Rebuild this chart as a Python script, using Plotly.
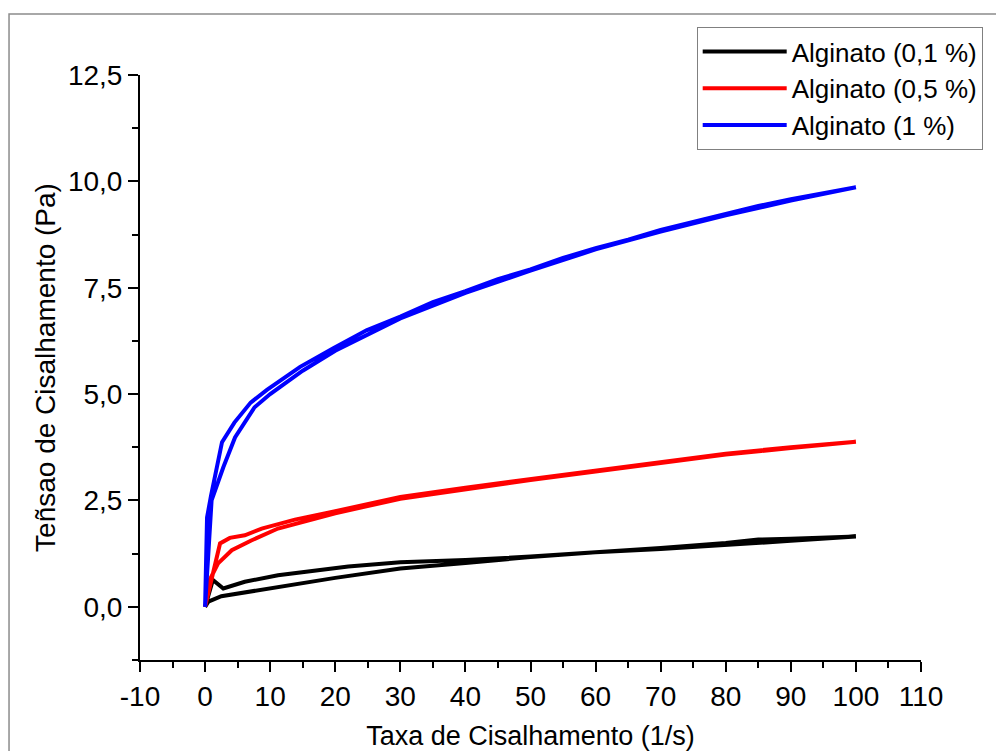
import plotly.graph_objects as go

# ---- data ----
series_names = ["Alginato (0,1 %)", "Alginato (0,5 %)", "Alginato (1 %)"]
series_colors = ["#000000", "#FF0000", "#0000FF"]

# Alginato 0,1 % : up ramp then down ramp
x_01 = [0, 1.2, 2.8, 6.1, 11.2, 16.4, 22, 30, 40, 50, 60, 70, 80, 85, 90, 100,
        90, 80, 70, 60, 50, 40, 30, 20, 16.4, 11.2, 6.1, 2.5, 0.5, 0]
y_01 = [0, 0.63, 0.43, 0.59, 0.74, 0.84, 0.95, 1.05, 1.10, 1.18, 1.27, 1.38, 1.50, 1.58, 1.60, 1.65,
        1.55, 1.45, 1.36, 1.28, 1.17, 1.03, 0.90, 0.68, 0.59, 0.47, 0.35, 0.25, 0.12, 0]

# Alginato 0,5 %
x_05 = [0, 2.3, 3.8, 6.1, 8.7, 13.8, 20, 30, 40, 50, 60, 70, 80, 90, 100,
        90, 80, 70, 60, 50, 40, 30, 20, 11.2, 7.1, 4.1, 2.0, 0.7, 0]
y_05 = [0, 1.49, 1.62, 1.68, 1.84, 2.05, 2.25, 2.58, 2.80, 3.00, 3.20, 3.42, 3.60, 3.75, 3.88,
        3.73, 3.58, 3.39, 3.18, 2.98, 2.77, 2.54, 2.20, 1.84, 1.56, 1.33, 1.02, 0.63, 0]

# Alginato 1 %
x_1 = [0, 0.3, 0.9, 2.6, 4.5, 7, 9.5, 14.6, 19.7, 24.8, 30, 35, 40, 45, 50, 55, 60, 65, 70, 75,
       80, 85, 90, 95, 100,
       90, 80, 70, 60, 50, 40, 30, 20, 15, 10, 7.6, 4.6, 2.8, 1.0, 0]
y_1 = [0, 2.1, 2.6, 3.87, 4.33, 4.80, 5.10, 5.64, 6.08, 6.50, 6.82, 7.16, 7.42, 7.70, 7.93, 8.20,
       8.43, 8.63, 8.86, 9.05, 9.22, 9.42, 9.58, 9.73, 9.86,
       9.55, 9.20, 8.82, 8.40, 7.90, 7.38, 6.78, 6.02, 5.55, 5.00, 4.69, 3.98, 3.28, 2.50, 0]

x_ticks = [-10, 0, 10, 20, 30, 40, 50, 60, 70, 80, 90, 100, 110]
y_ticks = [0.0, 2.5, 5.0, 7.5, 10.0, 12.5]
y_tick_labels = ["0,0", "2,5", "5,0", "7,5", "10,0", "12,5"]

x_title = "Taxa de Cisalhamento (1/s)"
y_title = "Teñsao de Cisalhamento (Pa)"

FONT = "Liberation Sans, Arial, sans-serif"

fig = go.Figure()
for name, color, xs, ys in zip(series_names, series_colors,
                               [x_01, x_05, x_1], [y_01, y_05, y_1]):
    fig.add_trace(go.Scatter(x=xs, y=ys, mode="lines", name=name,
                             line=dict(color=color, width=4)))

axis_common = dict(
    showgrid=False, zeroline=False, showline=True, linecolor="black", linewidth=2,
    ticks="outside", ticklen=10, tickwidth=2, tickcolor="black",
    tickfont=dict(family=FONT, size=28, color="black"),
    mirror=False, automargin=False,
)

fig.update_layout(
    width=996, height=743,
    paper_bgcolor="white", plot_bgcolor="white",
    margin=dict(l=132, r=83, t=67, b=91),
    font=dict(family=FONT, color="black"),
    showlegend=True,
    legend=dict(
        x=1.079, xanchor="right", y=1.082, yanchor="top",
        bgcolor="white", bordercolor="#808080", borderwidth=1,
        font=dict(family=FONT, size=26, color="black"),
        tracegroupgap=0, itemwidth=84,
    ),
    xaxis=dict(
        range=[-10, 110], tickvals=x_ticks, ticktext=[str(v) for v in x_ticks],
        minor=dict(dtick=5, tick0=0, ticks="outside", ticklen=6, tickwidth=2, tickcolor="black"),
        title=dict(text=x_title, font=dict(family=FONT, size=27, color="black"), standoff=26),
        **axis_common,
    ),
    yaxis=dict(
        range=[-1.25, 12.5], tickvals=y_ticks, ticktext=y_tick_labels,
        minor=dict(dtick=1.25, tick0=0, ticks="outside", ticklen=6, tickwidth=2, tickcolor="black"),
        title=dict(text=y_title, font=dict(family=FONT, size=28, color="black"), standoff=4),
        **axis_common,
    ),
    shapes=[
        dict(type="rect", xref="paper", yref="paper",
             x0=-0.1677, x1=1.2, y0=-0.3, y1=1.1043,
             line=dict(color="#8c8c8c", width=1.5), fillcolor="rgba(0,0,0,0)", layer="below"),
    ],
)

fig.write_html("out.html")
